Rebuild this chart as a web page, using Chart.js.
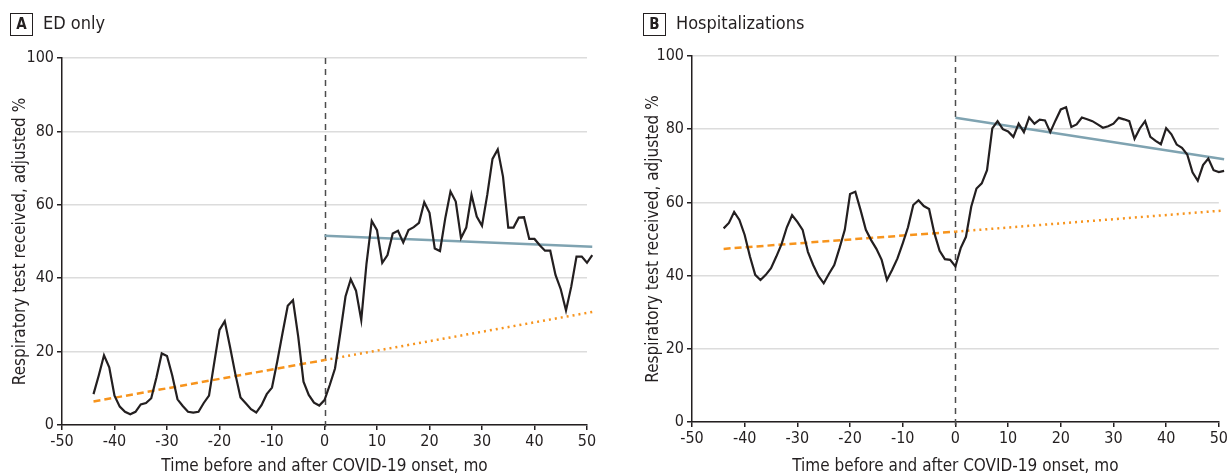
<!DOCTYPE html>
<html>
<head>
<meta charset="utf-8">
<title>Respiratory testing before and after COVID-19 onset</title>
<script src="https://cdn.jsdelivr.net/npm/chart.js@4.4.1/dist/chart.umd.min.js"></script>
<style>
  html, body { margin: 0; padding: 0; background: #fff; }
  #wrap { position: relative; width: 1230px; height: 475px; }
  .panel { position: absolute; top: 0; width: 615px; height: 475px; }
  #panelA { left: 0; }
  #panelB { left: 615px; }
</style>
</head>
<body>
<div id="wrap">
  <div class="panel" id="panelA"><canvas id="edChart" width="615" height="475"></canvas></div>
  <div class="panel" id="panelB"><canvas id="hospChart" width="615" height="475"></canvas></div>
</div>
<script>
// months relative to COVID-19 onset
const months = [-44, -43, -42, -41, -40, -39, -38, -37, -36, -35, -34, -33, -32, -31, -30,
  -29, -28, -27, -26, -25, -24, -23, -22, -21, -20, -19, -18, -17, -16, -15,
  -14, -13, -12, -11, -10, -9, -8, -7, -6, -5, -4, -3, -2, -1, 0,
  1, 2, 3, 4, 5, 6, 7, 8, 9, 10, 11, 12, 13, 14, 15, 16, 17, 18, 19, 20,
  21, 22, 23, 24, 25, 26, 27, 28, 29, 30, 31, 32, 33, 34, 35, 36, 37, 38, 39, 40,
  41, 42, 43, 44, 45, 46, 47, 48, 49, 50, 51];

// A: ED only, adjusted % receiving a respiratory test
const edObserved = [8.4, 13.5, 19, 15.7, 8, 5, 3.6, 2.9, 3.6, 5.6, 6, 7.3, 13, 19.5, 18.8,
  13.5, 7, 5.2, 3.6, 3.4, 3.6, 6, 8, 17, 25.9, 28.3, 21.3, 14, 7.5, 5.9,
  4.3, 3.4, 5.4, 8.4, 10.2, 17.3, 25, 32.5, 34, 24, 11.8, 8.2, 6.1, 5.3, 6.8,
  10.9, 15.4, 25, 35, 39.7, 36.6, 28.6, 44, 55.6, 53.1, 44.2, 46.3, 52.2, 52.9, 49.7,
  53.1, 53.9, 55.1, 60.7, 57.8, 48.1, 47.4, 56.3, 63.6, 60.9, 50.9, 53.8, 62.7, 56.8, 54.3,
  62.7, 72.5, 75.1, 67.7, 53.8, 53.8, 56.5, 56.6, 50.7, 50.7, 49, 47.5, 47.5, 40.9, 37,
  31.2, 37.7, 45.9, 45.9, 44.2, 46.3];
const edPreTrendX = [-44, 0];
const edPreTrendY = [6.4, 17.7];
const edProjX = [0, 51];
const edProjY = [17.7, 30.8];
const edPostTrendX = [0, 51];
const edPostTrendY = [51.6, 48.6];

// B: Hospitalizations
const hospObserved = [52.9, 54.4, 57.4, 55.2, 51.1, 45.2, 40.2, 38.8, 40.2, 42, 45.2, 48.6, 53.2, 56.5, 54.7,
  52.5, 46.5, 42.9, 39.9, 37.9, 40.5, 42.9, 47.5, 52.5, 62.3, 62.9, 57.9, 52.5, 49.7, 47.3,
  44.3, 38.8, 41.6, 44.7, 48.8, 53.2, 59.3, 60.6, 59, 58.2, 51.6, 46.8, 44.5, 44.3, 42.5,
  47.5, 50.6, 58.8, 63.8, 65.2, 68.8, 80.2, 82.2, 80, 79.4, 77.9, 81.5, 79.2, 83.2, 81.5,
  82.6, 82.4, 79.2, 82.4, 85.4, 86, 80.6, 81.3, 83.2, 82.7, 82.2, 81.3, 80.4, 80.8, 81.5,
  83.1, 82.7, 82.2, 77.4, 80.2, 82.2, 77.9, 76.8, 75.9, 80.3, 78.6, 75.8, 74.9, 73.1, 68.2,
  65.9, 70.2, 72, 68.8, 68.3, 68.6];
const hospPreTrendX = [-44, 0];
const hospPreTrendY = [47.3, 52];
const hospProjX = [0, 51];
const hospProjY = [52, 57.8];
const hospPostTrendX = [0, 51];
const hospPostTrendY = [83.1, 71.8];

const xTicks = [-50, -40, -30, -20, -10, 0, 10, 20, 30, 40, 50];
const yTicks = [0, 20, 40, 60, 80, 100];

const INK = '#231f20';
const ORANGE = '#f7941d';
const BLUE = '#7fa3b1';
const GRID = '#dcdcdc';
const FONT = "'Liberation Sans Narrow', 'DejaVu Sans Condensed', 'Liberation Sans', sans-serif";

function toPoints(xs, ys) {
  return xs.map((x, i) => ({ x: x, y: ys[i] }));
}

// dashed vertical line at onset
const onsetLinePlugin = {
  id: 'onsetLine',
  beforeDatasetsDraw(chart) {
    const { ctx, chartArea, scales } = chart;
    const x = Math.round(scales.x.getPixelForValue(0)) + 0.5;
    ctx.save();
    ctx.strokeStyle = '#4d4d4d';
    ctx.lineWidth = 1.5;
    ctx.setLineDash([6, 5]);
    ctx.beginPath();
    ctx.moveTo(x, chartArea.top);
    ctx.lineTo(x, chartArea.bottom + 5);
    ctx.stroke();
    ctx.restore();
  }
};

// boxed panel letter plus panel name
const panelLabelPlugin = {
  id: 'panelLabel',
  afterDraw(chart, args, opts) {
    const { ctx } = chart;
    ctx.save();
    ctx.strokeStyle = INK;
    ctx.lineWidth = 1;
    ctx.strokeRect(opts.x + 0.5, 13.5, 22, 22);
    ctx.fillStyle = INK;
    ctx.textBaseline = 'middle';
    ctx.textAlign = 'center';
    ctx.font = "bold 15px " + FONT;
    ctx.fillText(opts.letter, opts.x + 11.5, 25);
    ctx.textAlign = 'left';
    ctx.font = "18px " + FONT;
    ctx.fillText(opts.text, opts.x + 33, 24);
    ctx.restore();
  }
};

function buildChart(canvasId, cfg) {
  const ctx = document.getElementById(canvasId).getContext('2d');
  return new Chart(ctx, {
    type: 'line',
    data: {
      datasets: [
        {
          label: 'Observed',
          data: toPoints(months, cfg.observed),
          borderColor: INK,
          borderWidth: 2.2,
          pointRadius: 0,
          tension: 0,
          clip: false
        },
        {
          label: 'Preonset trend',
          data: toPoints(cfg.preX, cfg.preY),
          borderColor: ORANGE,
          borderWidth: 2.5,
          borderDash: [7, 4],
          pointRadius: 0,
          clip: false
        },
        {
          label: 'Projected trend',
          data: toPoints(cfg.projX, cfg.projY),
          borderColor: ORANGE,
          borderWidth: 2.5,
          borderDash: [2, 4],
          pointRadius: 0,
          clip: false
        },
        {
          label: 'Postonset trend',
          data: toPoints(cfg.postX, cfg.postY),
          borderColor: BLUE,
          borderWidth: 2.5,
          pointRadius: 0,
          clip: false
        }
      ]
    },
    options: {
      responsive: false,
      animation: false,
      layout: { padding: cfg.padding },
      plugins: {
        legend: { display: false },
        tooltip: { enabled: false },
        panelLabel: cfg.label
      },
      scales: {
        x: {
          type: 'linear',
          // set limits here so the month-51 point is still drawn past the axis end
          afterDataLimits: (scale) => { scale.min = -50; scale.max = 50; },
          afterBuildTicks: (scale) => { scale.ticks = xTicks.map(v => ({ value: v })); },
          afterFit: (scale) => { scale.height = cfg.xHeight; },
          ticks: { color: INK, font: { family: FONT, size: 16 }, padding: 2, maxRotation: 0 },
          grid: { drawOnChartArea: false, tickLength: 5, tickColor: INK, lineWidth: 1.5 },
          border: { color: INK, width: 1.5 },
          title: {
            display: true,
            text: 'Time before and after COVID-19 onset, mo',
            color: INK,
            font: { family: FONT, size: 17, lineHeight: 1 },
            padding: { top: 0, bottom: 0 }
          }
        },
        y: {
          min: 0,
          max: 100,
          afterBuildTicks: (scale) => { scale.ticks = yTicks.map(v => ({ value: v })); },
          afterFit: (scale) => { scale.width = cfg.yWidth; },
          ticks: { color: INK, font: { family: FONT, size: 16 }, padding: 3 },
          grid: { color: GRID, lineWidth: 1.5, tickLength: 5, tickColor: INK },
          border: { color: INK, width: 1.5 },
          title: {
            display: true,
            text: 'Respiratory test received, adjusted %',
            color: INK,
            font: { family: FONT, size: 17 },
            padding: { top: 2, bottom: 0 }
          }
        }
      }
    },
    plugins: [onsetLinePlugin, panelLabelPlugin]
  });
}

function initializeCharts() {
  buildChart('edChart', {
    observed: edObserved,
    preX: edPreTrendX, preY: edPreTrendY,
    projX: edProjX, projY: edProjY,
    postX: edPostTrendX, postY: edPostTrendY,
    padding: { left: 8, right: 28, top: 58, bottom: 0 },
    yWidth: 54,
    xHeight: 50,
    label: { x: 10, letter: 'A', text: 'ED only' }
  });

  buildChart('hospChart', {
    observed: hospObserved,
    preX: hospPreTrendX, preY: hospPreTrendY,
    projX: hospProjX, projY: hospProjY,
    postX: hospPostTrendX, postY: hospPostTrendY,
    padding: { left: 26, right: 11, top: 56, bottom: 0 },
    yWidth: 51,
    xHeight: 53,
    label: { x: 28, letter: 'B', text: 'Hospitalizations' }
  });
}

document.addEventListener('DOMContentLoaded', () => {
  initializeCharts();
});
</script>
</body>
</html>
